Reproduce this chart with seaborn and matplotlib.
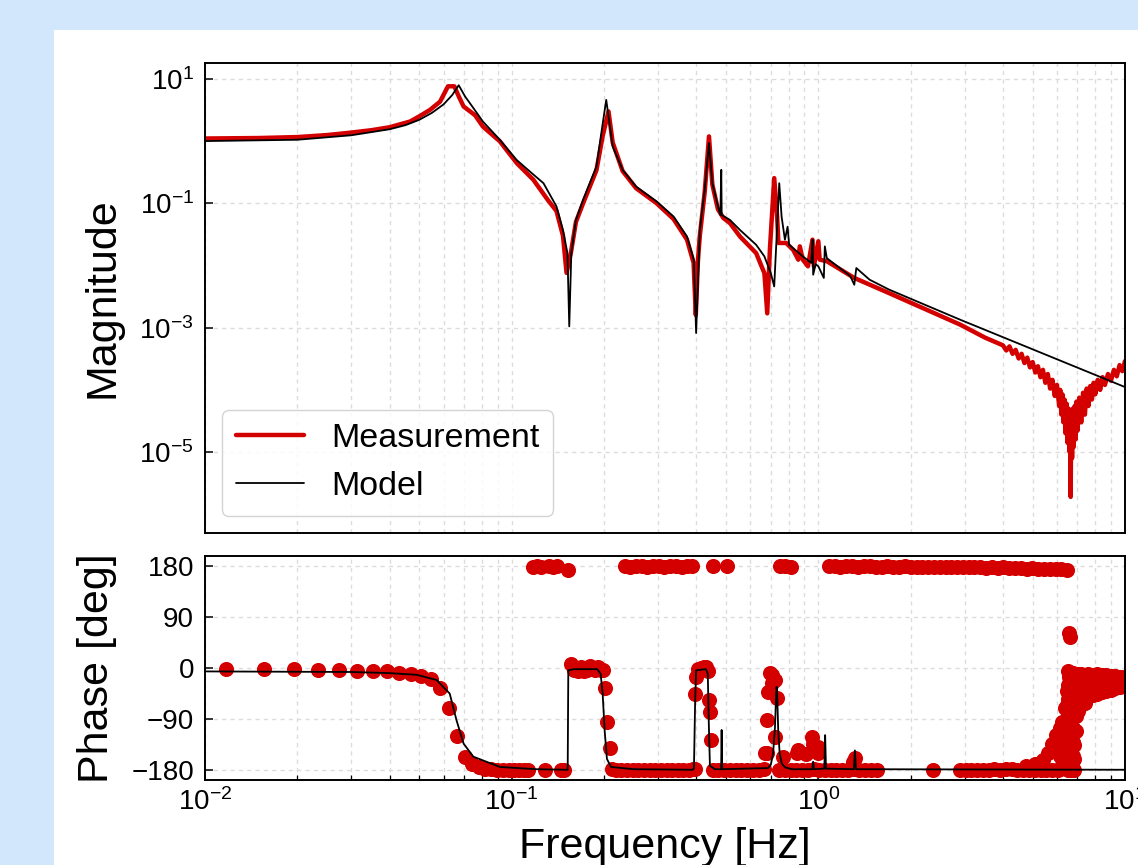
import matplotlib
matplotlib.use("Agg")
import matplotlib.pyplot as plt
import seaborn as sns
from matplotlib.patches import Rectangle
from matplotlib.ticker import FixedLocator, NullLocator

meas_freq = [0.0100, 0.0150, 0.0200, 0.0250, 0.0300, 0.0350, 0.0400, 0.0466, 0.0500, 0.0542,
             0.0584, 0.0620, 0.0650, 0.0675, 0.0697, 0.0760, 0.0806, 0.0915, 0.1040, 0.1176,
             0.1310, 0.1400, 0.1470, 0.1510, 0.1560, 0.1620, 0.1710, 0.1890, 0.1980, 0.2069,
             0.2135, 0.2300, 0.2544, 0.2970, 0.3370, 0.3730, 0.3920, 0.3985, 0.4050, 0.4107,
             0.4260, 0.4400, 0.4512, 0.4706, 0.4900, 0.5150, 0.5560, 0.6270, 0.6670, 0.6814,
             0.6950, 0.7181, 0.7340, 0.7410, 0.7855, 0.8280, 0.8600, 0.8700, 0.8900, 0.9250,
             0.9570, 0.9670, 1.0000, 1.0100, 1.0660, 1.3100, 1.7000, 2.9000, 3.5000,
             4.0, 4.1, 4.2, 4.3, 4.4, 4.5, 4.6, 4.7, 4.8, 4.9,
             5.0, 5.1, 5.2, 5.3, 5.4, 5.5, 5.6, 5.7, 5.8, 5.9,
             6.0, 6.1, 6.15, 6.2, 6.25, 6.3, 6.35, 6.4, 6.45, 6.5,
             6.55, 6.6, 6.63, 6.65, 6.68, 6.72, 6.76, 6.8, 6.85, 6.9,
             6.95, 7.0, 7.1, 7.2, 7.3, 7.4, 7.5, 7.6, 7.7, 7.8,
             7.9, 8.0, 8.15, 8.3, 8.45, 8.6, 8.8, 9.0, 9.2, 9.4,
             9.6, 9.8, 10.0]
meas_mag = [1.10, 1.12, 1.16, 1.25, 1.37, 1.50, 1.67, 2.06, 2.50, 3.18,
            4.30, 7.6, 7.6, 5.0, 3.6, 2.6, 1.71, 0.99, 0.44, 0.24,
            0.114, 0.075, 0.030, 0.0076, 0.016, 0.05, 0.10, 0.34, 1.2, 3.0,
            0.95, 0.33, 0.175, 0.10, 0.056, 0.026, 0.011, 0.0016, 0.012, 0.030,
            0.15, 1.19, 0.20, 0.080, 0.058, 0.048, 0.029, 0.0158, 0.0075, 0.0017,
            0.018, 0.254, 0.061, 0.023, 0.023, 0.0178, 0.0124, 0.0203, 0.0124, 0.0097,
            0.026, 0.0097, 0.0245, 0.0124, 0.0117, 0.0063, 0.0036, 0.00112, 6.9e-4,
            5.2e-4, 4.3e-4, 5.0e-4, 3.8e-4, 4.4e-4, 3.2e-4, 3.8e-4, 2.7e-4, 3.3e-4, 2.3e-4,
            2.8e-4, 1.9e-4, 2.4e-4, 1.6e-4, 2.1e-4, 1.3e-4, 1.8e-4, 1.05e-4, 1.45e-4, 8e-5,
            1.2e-4, 5.5e-5, 1.0e-4, 4e-5, 8.5e-5, 3e-5, 7e-5, 2e-5, 6e-5, 1.4e-5,
            5e-5, 1e-5, 4.5e-5, 1.9e-6, 4.5e-5, 8e-6, 5e-5, 1.2e-5, 5.5e-5, 1.6e-5,
            6.5e-5, 2.2e-5, 7.5e-5, 3e-5, 9e-5, 4e-5, 1.05e-4, 5.5e-5, 1.15e-4, 7e-5,
            1.3e-4, 8.5e-5, 1.45e-4, 1.0e-4, 1.6e-4, 1.2e-4, 1.8e-4, 1.4e-4, 2.1e-4, 1.65e-4,
            2.5e-4, 2.0e-4, 2.9e-4]

# ---- magnitude: model ----
model_freq = [0.01, 0.02, 0.03, 0.04, 0.045, 0.05, 0.055, 0.06, 0.064, 0.0672,
              0.0705, 0.0731, 0.0806, 0.0915, 0.1037, 0.115, 0.127, 0.140, 0.147, 0.152,
              0.1541, 0.1565, 0.162, 0.171, 0.189, 0.196, 0.2034, 0.2135, 0.230, 0.2544,
              0.297, 0.337, 0.373, 0.3925, 0.3995, 0.4107, 0.426, 0.440, 0.4512, 0.4706,
              0.479, 0.4825, 0.4840, 0.515, 0.556, 0.627, 0.667, 0.700, 0.718, 0.7457,
              0.759, 0.778, 0.794, 0.803, 0.890, 0.948, 0.958, 0.962, 0.980, 1.000,
              1.042, 1.050, 1.066, 1.270, 1.310, 1.330, 1.470, 1.700, 2.894, 10.0]
model_mag = [1.00, 1.05, 1.24, 1.55, 1.80, 2.2, 2.85, 3.9, 5.5, 7.9,
             5.2, 4.06, 2.06, 1.05, 0.50, 0.32, 0.21, 0.089, 0.037, 0.0158,
             0.00105, 0.0158, 0.054, 0.114, 0.39, 1.34, 4.6, 0.82, 0.345, 0.186,
             0.107, 0.0614, 0.0293, 0.0124, 0.00082, 0.037, 0.165, 0.93, 0.211, 0.089,
             0.065, 0.345, 0.065, 0.054, 0.037, 0.0215, 0.014, 0.0075, 0.0046, 0.21,
             0.061, 0.026, 0.042, 0.0215, 0.014, 0.011, 0.026, 0.0071, 0.0105, 0.0097,
             0.0063, 0.0203, 0.0131, 0.0068, 0.0049, 0.0091, 0.0059, 0.0041, 0.00135, 1.11e-4]

# ---- phase: model ----
model_ph_freq = [0.01, 0.03, 0.04, 0.049, 0.0569, 0.0628, 0.0661, 0.0697, 0.075, 0.0915,
                 0.12, 0.1515, 0.1523, 0.1530, 0.16, 0.19, 0.195, 0.198, 0.201, 0.2045,
                 0.2108, 0.25, 0.39, 0.393, 0.3965, 0.3995, 0.43, 0.436, 0.4395, 0.4431,
                 0.46, 0.482, 0.4838, 0.4855, 0.686, 0.70, 0.712, 0.722, 0.728, 0.731,
                 0.734, 0.740, 0.748, 0.76, 0.78, 0.82, 0.955, 0.9616, 0.968, 1.046,
                 1.0525, 1.059, 1.305, 1.3161, 1.327, 10.0]
model_ph = [-6, -7, -9, -12, -21, -45, -92, -133, -156, -174,
            -178, -179, -179, -4, -2, -2, -10, -45, -110, -160,
            -174, -178, -179, -176, -60, -4, -2, -10, -100, -172,
            -178, -178, -109, -178, -176, -170, -150, -105, -50, -33,
            -45, -110, -150, -168, -175, -178, -178, -165, -178, -177,
            -118, -177, -178, -145, -178, -179]

# ---- phase: measurement, region by region ----
ph_a_freq = [0.0117, 0.0156, 0.0195, 0.0234, 0.0273, 0.0313, 0.0352, 0.0391, 0.0430, 0.0469,
             0.0508, 0.0547, 0.0586, 0.0625, 0.0664, 0.0703, 0.0742, 0.0781, 0.0820, 0.0859,
             0.0898, 0.0938, 0.0977, 0.1016, 0.1055, 0.1094, 0.1133, 0.1172, 0.1211, 0.1250,
             0.1289, 0.1328, 0.1367, 0.1406, 0.1445, 0.1484, 0.1523, 0.1563, 0.1602, 0.1641,
             0.1680, 0.1719, 0.1758, 0.1797, 0.1836, 0.1875, 0.1914, 0.1953, 0.1992, 0.2012,
             0.2051, 0.2090, 0.2129]
ph_a = [-2, -2, -2, -3, -3, -5, -6, -6, -8, -10,
        -14, -20, -35, -71, -120, -156, -169, -174, -177, -178,
        -179, -180, -180, -179, -180, -180, -179, 178, 179, 178,
        -180, 179, 178, 179, -180, -180, 172, 7, -3, -5,
        2, -5, -3, 3, -2, -4, 2, -3, -4, -36,
        -95, -141, -178]

ph_b_freq = [0.219, 0.228, 0.238, 0.248, 0.259, 0.270, 0.282, 0.294, 0.307, 0.320,
             0.334, 0.348, 0.363, 0.379, 0.390, 0.234, 0.244, 0.255, 0.266, 0.277,
             0.289, 0.302, 0.315, 0.329, 0.343, 0.358, 0.374, 0.388]
ph_b = [-179, -180, -180, -179, -180, -180, -180, -179, -180, -180,
        -179, -180, -180, -179, -178, 179, 178, 179, 179, 178,
        179, 179, 178, 179, 179, 178, 179, 179]

ph_c_freq = [0.396, 0.396, 0.3995, 0.405, 0.4147, 0.423, 0.4305, 0.4357, 0.441, 0.443,
             0.446, 0.452, 0.505]
ph_c = [-178, -45, -15, -2, 0, 2, 2, -5, -56, -77,
        -127, 179, 179]

ph_d_freq = [0.452, 0.472, 0.493, 0.515, 0.538, 0.561, 0.586, 0.612, 0.639, 0.665]
ph_d = [-180, -179, -180, -180, -179, -180, -180, -179, -180, -178]

ph_e_freq = [0.670, 0.678, 0.678, 0.686, 0.695, 0.704, 0.704, 0.722, 0.722, 0.731,
             0.768, 0.748, 0.781, 0.815]
ph_e = [-150, -91, -150, -42, -9, -27, -12, -121, -21, -53,
        -157, 179, 179, 178]

ph_f_freq = [0.745, 0.778, 0.812, 0.848, 0.885, 0.924, 0.965, 1.007, 1.052, 1.098,
             1.146, 1.197, 1.250, 1.305, 1.362, 1.422, 1.485, 1.550, 0.850, 0.860,
             0.914, 0.951, 0.962, 0.994, 1.000, 1.300, 1.316]
ph_f = [-180, -179, -180, -180, -179, -180, -178, -180, -179, -180,
        -179, -180, -180, -178, -179, -180, -180, -180, -150, -145,
        -151, -121, -133, -139, -150, -165, -159]

ph_g_freq = [1.08, 1.13, 1.18, 1.23, 1.29, 1.35, 1.41, 1.47, 1.54, 1.61,
             1.68, 1.75, 1.83, 1.91, 2.00, 2.09, 2.18, 2.28, 2.38, 2.49,
             2.60, 2.71, 2.83, 2.96, 3.09, 3.23, 3.37, 3.52, 3.68, 3.84,
             4.01, 4.19, 4.38, 4.57, 4.78, 4.99, 5.21, 5.44, 5.69, 5.94,
             6.20, 6.48]
ph_g = [179, 179, 178, 179, 179, 178, 179, 179, 178, 178,
        179, 178, 178, 179, 178, 178, 178, 177, 178, 178,
        177, 178, 177, 177, 178, 177, 177, 176, 177, 176,
        177, 176, 176, 176, 175, 176, 175, 175, 175, 174,
        174, 172]

ph_h_freq = [2.37, 2.89, 3.02, 3.15, 3.29, 3.44, 3.59, 3.75, 3.92, 4.09,
             4.27, 4.46, 4.66, 4.87, 5.08, 5.31, 5.54, 5.79, 6.04, 4.77,
             5.08, 5.39, 5.60, 5.78, 5.95]
ph_h = [-180, -180, -180, -179, -180, -179, -179, -178, -179, -178,
        -178, -180, -179, -180, -179, -180, -180, -180, -180, -172,
        -168, -162, -150, -133, -118]

ph_i_freq = [6.14, 6.14, 6.14, 6.14, 6.25, 6.25, 6.25, 6.25, 6.36, 6.36,
             6.36, 6.36, 6.36, 6.45, 6.45, 6.45, 6.45, 6.45, 6.45, 6.52,
             6.52, 6.52, 6.52, 6.52, 6.52, 6.52, 6.52, 6.57, 6.60, 6.58,
             6.58, 6.58, 6.58, 6.58, 6.58, 6.58, 6.66, 6.66, 6.66, 6.66,
             6.66, 6.66, 6.66, 6.66, 6.75, 6.75, 6.75, 6.75, 6.75, 6.75,
             6.75, 6.75, 6.84, 6.84, 6.84, 6.84, 6.84, 6.84, 6.84, 6.84,
             6.94, 6.94, 6.94, 6.94, 6.94]
ph_i = [-105, -130, -155, -178, -95, -120, -145, -170, -70, -95,
        -120, -145, -170, -40, -65, -90, -115, -140, -165, -5,
        -30, -55, -80, -105, -130, -155, -180, 62, 55, -15,
        -40, -65, -90, -115, -140, -165, -10, -35, -60, -85,
        -110, -135, -160, -180, -8, -30, -55, -80, -105, -130,
        -155, -178, -10, -35, -60, -85, -110, -135, -160, -180,
        -12, -35, -60, -85, -110]

ph_j_freq = [7.05, 7.05, 7.05, 7.05, 7.2, 7.2, 7.2, 7.2, 7.4, 7.4,
             7.4, 7.4, 7.6, 7.6, 7.6, 7.85, 7.85, 7.85, 8.1, 8.1,
             8.1, 8.4, 8.4, 8.4, 8.7, 8.7, 8.7, 9.0, 9.0, 9.0,
             9.3, 9.3, 9.3, 9.6, 9.6, 9.6, 9.9, 9.9, 9.9]
ph_j = [-10, -35, -60, -75, -10, -30, -50, -65, -12, -32,
        -52, -62, -10, -30, -50, -12, -30, -48, -10, -28,
        -45, -12, -28, -42, -12, -28, -40, -14, -27, -38,
        -14, -26, -36, -15, -25, -33, -16, -24, -30]

phase_freq = (ph_a_freq + ph_b_freq + ph_c_freq + ph_d_freq + ph_e_freq
              + ph_f_freq + ph_g_freq + ph_h_freq + ph_i_freq + ph_j_freq)
phase_deg = ph_a + ph_b + ph_c + ph_d + ph_e + ph_f + ph_g + ph_h + ph_i + ph_j

mag_ticks = [1e1, 1e-1, 1e-3, 1e-5]
phase_ticks = [180, 90, 0, -90, -180]
phase_tick_labels = ["180", "90", "0", "\u221290", "\u2212180"]

RED = "#d40000"
BG = "#d2e7fc"
GRID = "#dcdcdc"

sns.set_theme(style="ticks", rc={
    "axes.edgecolor": "black",
    "axes.labelcolor": "black",
    "text.color": "black",
    "axes.linewidth": 1.4,
    "xtick.color": "black",
    "ytick.color": "black",
    "xtick.labelcolor": "black",
    "ytick.labelcolor": "black",
    "xtick.direction": "in",
    "ytick.direction": "in",
    "xtick.major.size": 6,
    "ytick.major.size": 6,
    "xtick.minor.size": 3.5,
    "xtick.major.width": 1.1,
    "ytick.major.width": 1.1,
    "xtick.minor.width": 0.9,
})
plt.rcParams["font.family"] = ["Liberation Sans", "DejaVu Sans"]
plt.rcParams["mathtext.fontset"] = "custom"
plt.rcParams["mathtext.rm"] = "Liberation Sans"
plt.rcParams["mathtext.it"] = "Liberation Sans:italic"
plt.rcParams["mathtext.bf"] = "Liberation Sans:bold"

fig = plt.figure(figsize=(11.38, 8.65), dpi=100, facecolor=BG)
# white panel, cut off at the right and bottom like the reference
fig.add_artist(Rectangle((54 / 1138, 0), 1.0, 1 - 30 / 865, transform=fig.transFigure,
                         facecolor="white", edgecolor="none", zorder=-1))

ax_mag = fig.add_axes([205 / 1138, 1 - 533 / 865, 920 / 1138, 470 / 865])
ax_ph = fig.add_axes([205 / 1138, 1 - 780 / 865, 920 / 1138, 224 / 865], sharex=ax_mag)

for ax in (ax_mag, ax_ph):
    ax.set_facecolor("white")
    ax.set_xscale("log")

ax_mag.set_yscale("log")

# magnitude
sns.lineplot(x=meas_freq, y=meas_mag, ax=ax_mag, color=RED, lw=3.2, label="Measurement",
             sort=False, estimator=None, zorder=2)
sns.lineplot(x=model_freq, y=model_mag, ax=ax_mag, color="black", lw=1.3, label="Model",
             sort=False, estimator=None, zorder=3)

# phase
sns.scatterplot(x=phase_freq, y=phase_deg, ax=ax_ph, color=RED, s=118, linewidth=0,
                legend=False, zorder=2)
sns.lineplot(x=model_ph_freq, y=model_ph, ax=ax_ph, color="black", lw=1.3,
             sort=False, estimator=None, zorder=3)

ax_mag.set_xlim(0.01, 10)
ax_mag.set_ylim(5e-7, 18)
ax_ph.set_ylim(-197, 197)

ax_mag.yaxis.set_major_locator(FixedLocator(mag_ticks))
ax_mag.yaxis.set_minor_locator(NullLocator())
ax_ph.yaxis.set_major_locator(FixedLocator(phase_ticks))
ax_ph.set_yticklabels(phase_tick_labels)

for ax in (ax_mag, ax_ph):
    ax.grid(True, which="major", color=GRID, ls=(0, (3, 3)), lw=1.0)
    ax.grid(True, which="minor", axis="x", color=GRID, ls=(0, (3, 3)), lw=1.0)
    ax.set_axisbelow(True)
    ax.tick_params(axis="y", labelsize=20, pad=8)

ax_mag.tick_params(axis="x", which="both", length=0, labelbottom=False)
ax_ph.tick_params(axis="x", which="both", labelsize=20, pad=6)

ax_mag.set_ylabel("Magnitude", fontsize=31, labelpad=12)
ax_ph.set_ylabel("Phase [deg]", fontsize=31, labelpad=10)
ax_ph.set_xlabel("Frequency [Hz]", fontsize=31, labelpad=8)
ax_mag.set_xlabel("")

ax_mag.legend(loc="lower left", fontsize=24.5, frameon=True, fancybox=True,
              edgecolor="#cccccc", framealpha=0.85)

fig.savefig("out.png", dpi=100, facecolor=fig.get_facecolor())
